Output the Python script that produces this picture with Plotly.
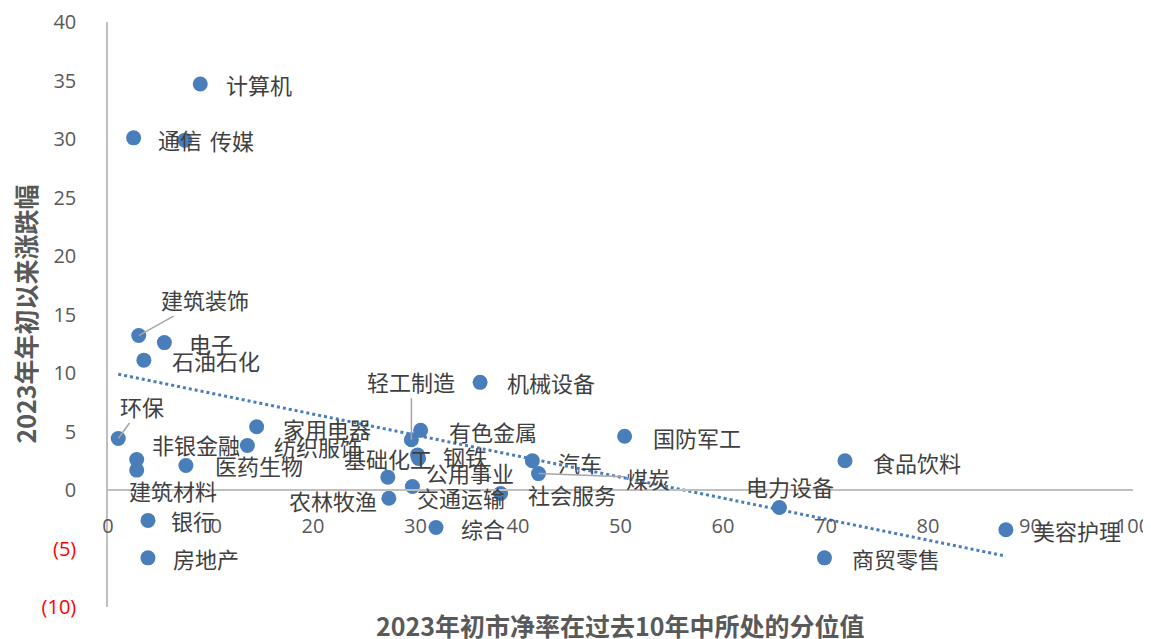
import numpy as np
import plotly.graph_objects as go

# ---------------- data ----------------
industries = ["计算机", "通信", "传媒", "建筑装饰", "电子", "石油石化", "环保", "非银金融",
              "建筑材料", "医药生物", "家用电器", "纺织服饰", "银行", "房地产", "农林牧渔",
              "基础化工", "钢铁", "公用事业", "交通运输", "轻工制造", "有色金属", "综合",
              "机械设备", "社会服务", "汽车", "煤炭", "国防军工", "食品饮料", "电力设备",
              "商贸零售", "美容护理"]
pb_percentile = [9.0, 2.5, 7.5, 3.0, 5.5, 3.5, 1.0, 2.8,
                 2.8, 7.6, 14.5, 13.6, 3.9, 3.9, 27.4,
                 27.3, 30.2, 30.3, 29.7, 29.6, 30.5, 32.0,
                 36.3, 38.3, 41.4, 42.0, 50.4, 71.9, 65.5,
                 69.9, 87.6]
ytd_change = [34.7, 30.1, 29.9, 13.2, 12.6, 11.1, 4.4, 2.6,
              1.7, 2.1, 5.4, 3.8, -2.6, -5.8, -0.7,
              1.1, 3.0, 2.7, 0.3, 4.3, 5.1, -3.2,
              9.2, -0.3, 2.5, 1.4, 4.6, 2.5, -1.5,
              -5.8, -3.4]

y_tick_vals = [-10, -5, 0, 5, 10, 15, 20, 25, 30, 35, 40]
y_tick_text = ["(10)", "(5)", "0", "5", "10", "15", "20", "25", "30", "35", "40"]
x_tick_vals = [0, 10, 20, 30, 40, 50, 60, 70, 80, 90, 100]

x_title = "2023年初市净率在过去10年中所处的分位值"
y_title = "2023年年初以来涨跌幅"

# label placement (pixel offsets of label centre from point; leader = draw line)
label_offsets = {
    "计算机": (59, 0, False), "通信": (46, 1, False), "传媒": (47, 0, False),
    "建筑装饰": (66, -37, True), "电子": (47, 0, False), "石油石化": (72, 0, False),
    "环保": (24, -33, True), "非银金融": (59, -16, False), "建筑材料": (36, 20, False),
    "医药生物": (73, 0, False), "家用电器": (70, 1, False), "纺织服饰": (71, 0, False),
    "银行": (45, 0, False), "房地产": (58, 0, False), "农林牧渔": (-56, 2, False),
    "基础化工": (0, -19, False), "钢铁": (47, 1, False), "公用事业": (51, 14, False),
    "交通运输": (49, 11, False), "轻工制造": (0, -59, True), "有色金属": (72, 1, False),
    "综合": (47, 1, False), "机械设备": (71, 0, False), "社会服务": (71, 0, False),
    "汽车": (48, 1, False), "煤炭": (109, 4, True), "国防军工": (72, 1, False),
    "食品饮料": (72, 1, False), "电力设备": (11, -22, False), "商贸零售": (72, 0, False),
    "美容护理": (71, 0, False),
}

BLUE = "#4A7EBB"
GRAY_TXT = "#404040"
AXIS_GRAY = "#BFBFBF"
CJK = "Noto Sans CJK SC"
LABEL_FONT = dict(family=CJK, size=22, color=GRAY_TXT)
TITLE_FONT = dict(family=CJK, size=25, color="#595959", weight="bold")
TICK_FONT = dict(family="Open Sans", size=20, color="#595959")

fig = go.Figure()

# scatter points
fig.add_trace(go.Scatter(
    x=pb_percentile, y=ytd_change, mode="markers",
    marker=dict(size=15, color=BLUE), hoverinfo="text", text=industries,
    showlegend=False))

# linear trendline (least squares) across data range
xs = np.array(pb_percentile)
ys = np.array(ytd_change)
slope, intercept = np.polyfit(xs, ys, 1)
tx = np.array([xs.min(), xs.max()])
fig.add_trace(go.Scatter(
    x=tx, y=slope * tx + intercept, mode="lines",
    line=dict(color=BLUE, width=3, dash="dot"), hoverinfo="skip", showlegend=False))

# data labels
for name, xv, yv in zip(industries, pb_percentile, ytd_change):
    dx, dy, leader = label_offsets[name]
    if leader:
        fig.add_annotation(x=xv, y=yv, text=name, showarrow=True, arrowhead=0,
                           arrowwidth=1.5, arrowcolor="#A6A6A6", ax=dx, ay=dy,
                           standoff=0, font=LABEL_FONT)
    else:
        fig.add_annotation(x=xv, y=yv, text=name, showarrow=False,
                           xshift=dx, yshift=-dy, font=LABEL_FONT)

# axis titles
fig.add_annotation(x=0.5, y=0, xref="paper", yref="paper", yshift=-18,
                   text=x_title, showarrow=False, xanchor="center", yanchor="middle",
                   font=TITLE_FONT)
fig.add_annotation(x=0, y=0.5, xref="paper", yref="paper", xshift=-84,
                   text=y_title, showarrow=False, textangle=-90,
                   xanchor="center", yanchor="middle", font=TITLE_FONT)

tick_text_colored = [f'<span style="color:#FF0000">{t}</span>' if v < 0 else t
                     for v, t in zip(y_tick_vals, y_tick_text)]

# page body has an 8px default margin, so the figure is sized to fit the window
fig.update_layout(
    width=1143, height=631,
    margin=dict(l=100, r=18, t=14, b=32, autoexpand=False),
    paper_bgcolor="white", plot_bgcolor="white",
    xaxis=dict(range=[0, 100], tickvals=x_tick_vals, showgrid=False, zeroline=False,
               showline=True, linecolor=AXIS_GRAY, linewidth=1.5, automargin=False,
               anchor="free", position=0.2, ticks="", ticklabelstandoff=18,
               tickfont=TICK_FONT),
    yaxis=dict(range=[-10, 40], tickvals=y_tick_vals, ticktext=tick_text_colored,
               showgrid=False, zeroline=False, showline=True, linecolor=AXIS_GRAY,
               linewidth=1.5, ticks="", ticklabelstandoff=26, automargin=False,
               tickfont=TICK_FONT),
)

fig.write_html("out.html")
